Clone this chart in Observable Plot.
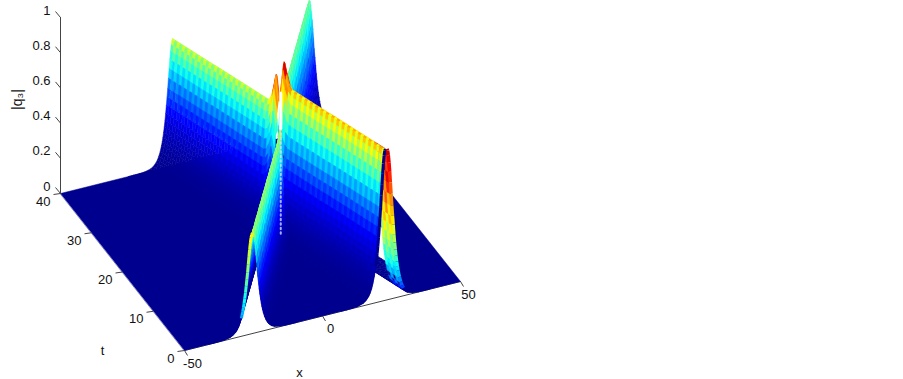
<!DOCTYPE html>
<html><head><meta charset="utf-8">
<script src="https://cdn.jsdelivr.net/npm/d3@7"></script>
<script src="https://cdn.jsdelivr.net/npm/@observablehq/plot@0.6"></script>
<style>html,body{margin:0;padding:0;background:#fff}</style></head>
<body><div id="chart"></div>
<script>
const tRows=[0,.5,1,1.5,2,2.5,3,3.5,4,4.5,5,5.5,6,6.5,7,7.5,8,8.5,9,9.5,10,10.5,11,11.5,12,12.5,13,13.5,14,14.5,15,15.5,16,16.5,17,17.5,18,18.5,19,19.5,20,20.5,21,21.5,22,22.5,23,23.5,24,24.5,25,25.5,26,26.5,27,27.5,28,28.5,29,29.5,30,30.5,31,31.5,32,32.5,33,33.5,34,34.5,35,35.5,36,36.5,37,37.5,38,38.5,39,39.5,40];
const ridge1Centre=[22.8,22.4,22.0,21.6,21.2,20.8,20.4,20.0,19.6,19.2,18.8,18.4,18.0,17.6,17.2,16.8,16.4,16.0,15.6,15.2,14.8,14.3,13.9,13.5,13.1,12.7,12.3,11.9,11.5,11.1,10.7,10.3,9.9,9.5,9.1,8.7,8.3,7.9,7.5,7.1,6.7,6.3,5.9,5.5,5.1,4.7,4.3,3.9,3.5,3.1,2.7,2.3,1.9,1.5,1.1,.7,.3,-.1,-.5,-.9,-1.3,-1.7,-2.1,-2.5,-2.9,-3.4,-3.8,-4.2,-4.6,-5.0,-5.4,-5.8,-6.2,-6.6,-7.0,-7.4,-7.8,-8.2,-8.6,-9.0,-9.4];
const ridge2Centre=[-25.4,-24.6,-23.8,-22.9,-22.1,-21.3,-20.5,-19.7,-18.8,-18.0,-17.2,-16.4,-15.6,-14.7,-13.9,-13.1,-12.3,-11.5,-10.6,-9.8,-9.0,-8.2,-7.4,-6.5,-5.7,-4.9,-4.1,-3.3,-2.4,-1.6,-.8,0,.8,1.7,2.5,3.3,4.1,4.9,5.8,6.6,7.4,8.2,9.0,9.9,10.7,11.5,12.3,13.1,14.0,14.8,15.6,16.4,17.2,18.1,18.9,19.7,20.5,21.3,22.2,23.0,23.8,24.6,25.4,26.3,27.1,27.9,28.7,29.5,30.4,31.2,32.0,32.8,33.6,34.5,35.3,36.1,36.9,37.7,38.6,39.4,40.2];
const ridge1Height=[.86,.86,.86,.86,.86,.86,.86,.86,.86,.86,.86,.86,.86,.86,.86,.86,.86,.86,.86,.86,.86,.86,.86,.86,.86,.86,.86,.86,.86,.86,.86,.86,.86,.86,.86,.86,.88,.93,.99,.84,.76,.89,.80,.74,.72,.72,.72,.72,.72,.72,.72,.72,.72,.72,.72,.72,.72,.72,.72,.72,.72,.72,.72,.72,.72,.72,.72,.72,.72,.72,.72,.72,.72,.72,.72,.72,.72,.72,.72,.72,.72];
const ridge2Height=[.57,.57,.57,.57,.57,.57,.57,.57,.57,.57,.57,.57,.57,.57,.57,.57,.57,.57,.57,.57,.57,.57,.57,.57,.57,.57,.57,.57,.57,.57,.57,.57,.57,.57,.57,.57,.57,.57,.57,.6,.6,.6,.745,.745,.745,.745,.745,.745,.745,.745,.745,.745,.745,.745,.745,.745,.745,.745,.745,.745,.745,.745,.745,.745,.745,.745,.745,.745,.745,.745,.745,.745,.745,.745,.745,.745,.745,.745,.745,.745,.745];
const ridge1Colour=[.67,.67,.67,.67,.67,.67,.67,.67,.67,.67,.67,.67,.67,.67,.67,.67,.67,.67,.67,.67,.67,.67,.67,.67,.67,.67,.67,.67,.67,.67,.67,.67,.67,.67,.67,.67,.74,.85,.92,.72,.7,.88,.75,.62,.56,.56,.56,.56,.56,.56,.56,.56,.56,.56,.56,.56,.56,.56,.56,.56,.56,.56,.56,.56,.56,.56,.56,.56,.56,.56,.56,.56,.56,.56,.56,.56,.56,.56,.56,.56,.56];
const ridge2Colour=[.55,.55,.52,.52,.52,.52,.52,.52,.52,.52,.52,.52,.52,.52,.52,.52,.52,.52,.52,.52,.52,.52,.52,.52,.52,.52,.52,.52,.52,.52,.52,.52,.52,.52,.52,.52,.52,.52,.52,.6,.6,.6,.48,.48,.48,.48,.48,.48,.48,.48,.48,.48,.48,.48,.48,.48,.48,.48,.48,.48,.48,.48,.48,.48,.48,.48,.48,.48,.48,.48,.48,.48,.48,.48,.48,.48,.48,.48,.48,.48,.48];
const profileOffset=[-16,-14,-12,-10,-8,-7,-6,-5.5,-5,-4.5,-4,-3.75,-3.5,-3.25,-3,-2.75,-2.5,-2.25,-2,-1.75,-1.5,-1.25,-1,-.75,-.5,-.25,0,.25,.5,.75,1,1.25,1.5,1.75,2,2.25,2.5,2.75,3,3.25,3.5,3.75,4,4.5,5,5.5,6,7,8,10,12,14,16];
const profileLevel=[0,.0005,.0015,.005,.0165,.03,.0546,.0737,.0993,.1338,.1792,.2085,.2406,.2789,.322,.3704,.425,.4889,.552,.6188,.698,.7724,.8436,.907,.957,.989,1,.989,.957,.907,.8436,.7724,.698,.6188,.552,.4889,.425,.3704,.322,.2789,.2406,.2085,.1792,.1338,.0993,.0737,.0546,.03,.0165,.005,.0015,.0005,0];
const zTicks=[0,.2,.4,.6,.8,1], zTickLabels=["0","0.2","0.4","0.6","0.8","1"];
const tTicks=[0,10,20,30,40], tTickLabels=["0","10","20","30","40"];
const xTicks=[-50,0,50], xTickLabels=["-50","0","50"];
const collisionLow=[0,.1,.2,.3,.4,.5,.6];
const collisionHigh=[.6,.7,.8];

// orthographic view of the box (x, t, z) on the page
const sx=(x,t)=>184+2.76*(x+50)-3.1*t;
const sy=(x,t,z)=>350-.69*(x+50)-3.925*t-176*z;
const vertex=(x,t,z,v,id)=>({id,v,px:sx(x,t),py:sy(x,t,z)});
const clampX=x=>Math.max(-50,Math.min(50,x));
const colourOf=(top,level)=>top*Math.pow(level,1.9);

const sheets=[[ridge1Centre,ridge1Height,ridge1Colour,ridge2Centre,0],[ridge2Centre,ridge2Height,ridge2Colour,ridge1Centre,1]];
const cells=[];
sheets.forEach(([c,h,col,other,which])=>{
  for(let i=0;i<tRows.length-1;i++)for(let k=0;k<profileOffset.length-1;k++){
    const xm=c[i]+(profileOffset[k]+profileOffset[k+1])/2;
    if(Math.abs(xm-c[i])>Math.abs(xm-other[i]))continue;
    const corners=[[i,k],[i,k+1],[i+1,k+1],[i+1,k]].map(([a,b])=>({x:clampX(c[a]+profileOffset[b]),t:tRows[a],z:h[a]*profileLevel[b],v:colourOf(col[a],profileLevel[b])}));
    const P=corners.map(q=>[sx(q.x,q.t),sy(q.x,q.t,q.z)]);
    const area=d3.sum(P,(p,n)=>{const r=P[(n+1)%4];return p[0]*r[1]-r[0]*p[1];});
    const lv=d3.mean([profileLevel[k],profileLevel[k+1]]);
    const back=area>0;
    const arch=back&&which===0&&i<=3;
    if(back&&!arch&&lv<.42)continue;
    if(arch&&lv<.13&&(i+k)%2===0)continue;
    const depth=d3.mean(corners,q=>.69*(q.x+50)+3.925*q.t);
    const shade=(i+Math.floor(k/2))%2?1.07:.93;
    const base=arch?.95*Math.pow(lv,.6):d3.mean(corners,q=>q.v);
    cells.push({corners,depth,v:Math.min(1,base*shade)});
  }
});
cells.sort((a,b)=>b.depth-a.depth);
const cellVerts=cells.flatMap((c,n)=>c.corners.map(q=>vertex(q.x,q.t,q.z,c.v,n)));

const frontRow=[];
for(let k=profileOffset.length-1;k>=0;k--)frontRow.push(vertex(clampX(ridge1Centre[0]+profileOffset[k]),0,ridge1Height[0]*profileLevel[k],0,0));
for(let k=profileOffset.length-1;k>=0;k--)frontRow.push(vertex(clampX(ridge2Centre[0]+profileOffset[k]),0,ridge2Height[0]*profileLevel[k],0,0));
const ground=[vertex(-50,40,0,0,0),vertex(50,40,0,0,0),vertex(50,0,0,0,0),...frontRow,vertex(-50,0,0,0,0)];

// the t = 0 row seen edge-on, one short link per profile step
const mid=profileOffset.indexOf(0);
const strip=(centre,height,from,to,fn)=>d3.range(from,to).map(k=>{
  const a=vertex(centre+profileOffset[k],0,height*profileLevel[k]);
  const b=vertex(centre+profileOffset[k+1],0,height*profileLevel[k+1]);
  return {x1:a.px,y1:a.py,x2:b.px,y2:b.py,v:fn((profileLevel[k]+profileLevel[k+1])/2)};
});
const edgeR1Right=strip(ridge1Centre[0],ridge1Height[0],mid,mid+20,l=>.95*Math.pow(l,.6));
const edgeR1Left=strip(ridge1Centre[0],ridge1Height[0],mid-14,mid,()=>0);
const edgeR2Left=strip(ridge2Centre[0],ridge2Height[0],mid-16,mid,l=>.64*Math.pow(l,.5));
const collisionA=collisionLow.map(z=>vertex(7,19.7,z));
const collisionB=collisionHigh.map(z=>vertex(7,19.7,z));

const axisColor="#444";
const font="Liberation Sans";
const chart=Plot.plot({
  width:903,height:379,margin:0,
  style:{background:"transparent",fontFamily:font},
  x:{type:"identity",axis:null},y:{type:"identity",axis:null},
  color:{type:"linear",domain:[0,.125,.375,.625,.875,1],range:["#00008f","#0000ff","#00ffff","#ffff00","#ff0000","#800000"]},
  marks:[
    Plot.line([vertex(-50,0,0),vertex(50,0,0)],{x:"px",y:"py",stroke:axisColor,strokeWidth:1}),
    Plot.line(ground,{x:"px",y:"py",fill:"v",stroke:"v",strokeWidth:.5,curve:"linear-closed"}),
    Plot.line(cellVerts,{x:"px",y:"py",z:"id",fill:"v",stroke:"v",strokeWidth:.5,curve:"linear-closed"}),
    Plot.line(collisionA,{x:"px",y:"py",stroke:"#cfdcff",strokeWidth:2,strokeDasharray:"1.5 3",strokeOpacity:.8}),
    Plot.line(collisionB,{x:"px",y:"py",stroke:"#ffffff",strokeWidth:3}),
    Plot.link(edgeR1Left,{x1:"x1",y1:"y1",x2:"x2",y2:"y2",stroke:"v",strokeWidth:3}),
    Plot.link(edgeR1Right,{x1:d=>d.x1+1.5,y1:"y1",x2:d=>d.x2+1.5,y2:"y2",stroke:"v",strokeWidth:3.5}),
    Plot.link(edgeR2Left,{x1:"x1",y1:"y1",x2:"x2",y2:"y2",stroke:"v",strokeWidth:3}),
    Plot.line([vertex(-50,40,0),vertex(-50,40,1)],{x:"px",y:"py",stroke:axisColor,strokeWidth:1}),
    Plot.link(zTicks,{x1:z=>sx(-50,40),y1:z=>sy(-50,40,z),x2:z=>sx(-50,40)-5,y2:z=>sy(-50,40,z)-6,stroke:axisColor}),
    Plot.text(zTicks,{x:z=>sx(-50,40)-10,y:z=>sy(-50,40,z)-7,text:(z,i)=>zTickLabels[i],textAnchor:"end",fontSize:13,fill:"#111"}),
    Plot.link(tTicks,{x1:t=>sx(-50,t),y1:t=>sy(-50,t,0),x2:t=>sx(-50,t)-7,y2:t=>sy(-50,t,0)+1,stroke:axisColor}),
    Plot.text(tTicks,{x:t=>sx(-50,t)-10,y:t=>sy(-50,t,0)+8,text:(t,i)=>tTickLabels[i],textAnchor:"end",fontSize:13,fill:"#111"}),
    Plot.link(xTicks,{x1:x=>sx(x,0),y1:x=>sy(x,0,0),x2:x=>sx(x,0)+3,y2:x=>sy(x,0,0)+5,stroke:axisColor}),
    Plot.text(xTicks,{x:x=>sx(x,0)+8,y:x=>sy(x,0,0)+13,text:(x,i)=>xTickLabels[i],fontSize:13,fill:"#111"}),
    Plot.text(["x"],{x:()=>299,y:()=>372,text:d=>d,fontSize:13,fill:"#111"}),
    Plot.text(["t"],{x:()=>102,y:()=>350,text:d=>d,fontSize:13,fill:"#111"}),
    Plot.text(["|q₃|"],{x:()=>17,y:()=>99,text:d=>d,rotate:-90,fontSize:14,fill:"#111"})
  ]
});
document.getElementById("chart").appendChild(chart);
</script></body></html>
